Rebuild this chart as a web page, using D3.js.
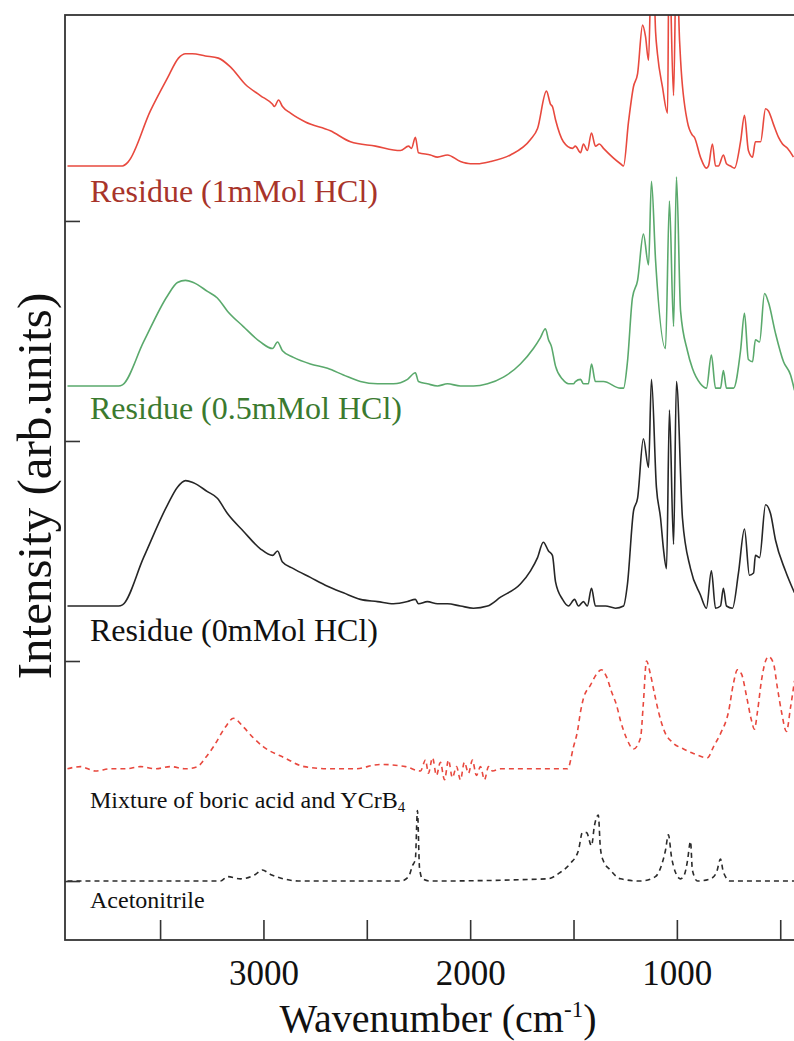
<!DOCTYPE html>
<html>
<head>
<meta charset="utf-8">
<script src="https://cdn.jsdelivr.net/npm/d3@7"></script>
<style>
  body { margin: 0; background: #fff; }
  svg text { font-family: "Liberation Serif", "Times New Roman", serif; }
</style>
</head>
<body>
<svg width="794" height="1041"></svg>
<script>
// spectra: [wavenumber (cm-1), intensity above own baseline (arb. units)]
const acetonitrile = [[3948,0],[3208,0],[3174,0.02],[3111,0.01],[3039,0.03],[3005,0.05],[2966,0.03],[2903,0.01],[2821,0],[2337,0],[2298,0.02],[2279,0.07],[2265,0.10],[2255,0.32],[2245,0.06],[2231,0.01],[2192,0],[1626,0.01],[1563,0.04],[1515,0.08],[1476,0.14],[1457,0.22],[1437,0.22],[1413,0.16],[1399,0.25],[1380,0.30],[1370,0.15],[1355,0.09],[1322,0.05],[1273,0.01],[1176,0],[1104,0.02],[1075,0.07],[1055,0.14],[1041,0.21],[1026,0.11],[1007,0.04],[982,0.01],[963,0.03],[949,0.09],[934,0.18],[925,0.05],[900,0],[838,0.01],[808,0.04],[789,0.10],[775,0.04],[741,0],[431,0]];

const mixture = [[3948,0],[3885,0.01],[3813,-0.01],[3740,0],[3668,0],[3595,0.01],[3522,0],[3450,0.01],[3377,0],[3319,0.01],[3281,0.05],[3242,0.10],[3184,0.19],[3145,0.23],[3097,0.19],[3048,0.14],[3000,0.10],[2898,0.05],[2802,0.01],[2676,0],[2560,0],[2434,0.02],[2313,0.01],[2240,-0.01],[2216,0.04],[2202,-0.02],[2182,0.05],[2163,-0.03],[2144,0.03],[2124,-0.05],[2105,0.04],[2086,-0.04],[2066,0.01],[2047,-0.05],[2028,0.03],[2008,-0.02],[1989,0.04],[1970,-0.03],[1950,0.01],[1931,-0.05],[1911,0.01],[1892,-0.01],[1853,0],[1757,0],[1660,0],[1529,0],[1500,0.10],[1481,0.17],[1466,0.26],[1452,0.32],[1418,0.38],[1389,0.43],[1365,0.45],[1341,0.42],[1316,0.35],[1292,0.29],[1273,0.22],[1244,0.14],[1210,0.09],[1176,0.14],[1162,0.30],[1147,0.49],[1128,0.43],[1108,0.34],[1089,0.26],[1060,0.17],[1021,0.12],[968,0.09],[920,0.07],[852,0.05],[823,0.10],[789,0.16],[750,0.26],[726,0.39],[707,0.45],[687,0.43],[663,0.33],[639,0.22],[625,0.18],[610,0.26],[591,0.40],[571,0.49],[557,0.51],[533,0.48],[514,0.37],[494,0.26],[470,0.17],[450,0.28],[431,0.40]];

const residue0 = [[3948,0],[3701,0],[3682,0.005],[3580,0.22],[3464,0.46],[3416,0.54],[3377,0.57],[3339,0.56],[3271,0.52],[3223,0.49],[3174,0.42],[3097,0.34],[3015,0.26],[2956,0.23],[2932,0.25],[2908,0.20],[2855,0.17],[2773,0.13],[2690,0.09],[2613,0.06],[2531,0.03],[2448,0.02],[2371,0.01],[2303,0.02],[2265,0.03],[2250,0.01],[2207,0.02],[2158,0.01],[2110,0.01],[2047,0],[1984,-0.01],[1916,0],[1853,0.04],[1757,0.10],[1708,0.16],[1674,0.22],[1646,0.29],[1621,0.25],[1602,0.23],[1587,0.11],[1553,0.03],[1524,0],[1495,0.03],[1476,0],[1452,0.02],[1433,0],[1413,0.08],[1394,0],[1345,0],[1297,-0.01],[1258,0],[1239,0.10],[1210,0.43],[1190,0.49],[1162,0.76],[1137,0.63],[1123,1.03],[1099,0.54],[1079,0.40],[1065,0.26],[1050,0.17],[1036,0.89],[1016,0.28],[1002,1.02],[973,0.40],[934,0.17],[886,0.05],[857,-0.01],[833,0.16],[813,-0.01],[789,0],[775,0.08],[760,0],[731,-0.01],[702,0.15],[673,0.35],[649,0.14],[629,0.15],[620,0.23],[600,0.22],[571,0.46],[547,0.42],[523,0.30],[475,0.16],[431,0.06]];

const residue05 = [[3948,0],[3701,0],[3682,0.005],[3580,0.20],[3464,0.41],[3416,0.47],[3377,0.48],[3339,0.47],[3271,0.43],[3223,0.40],[3174,0.34],[3097,0.27],[3015,0.20],[2956,0.17],[2932,0.20],[2908,0.16],[2855,0.13],[2773,0.10],[2690,0.08],[2613,0.05],[2531,0.02],[2448,0.01],[2371,0.01],[2303,0.03],[2265,0.06],[2250,0.02],[2207,0.01],[2158,0],[2110,0.01],[2047,0],[1984,0],[1916,0.01],[1839,0.04],[1757,0.10],[1694,0.17],[1660,0.22],[1636,0.26],[1621,0.21],[1607,0.18],[1587,0.09],[1553,0.03],[1524,0.01],[1500,0.01],[1491,0.02],[1466,0.03],[1452,0.01],[1428,0.01],[1413,0.10],[1394,0.02],[1375,0.02],[1355,0.02],[1273,-0.01],[1258,-0.01],[1239,0.11],[1215,0.40],[1190,0.48],[1162,0.69],[1137,0.55],[1123,0.93],[1103,0.57],[1055,0.17],[1036,0.84],[1016,0.27],[1002,0.95],[982,0.34],[949,0.16],[925,0.08],[886,0.01],[857,-0.01],[833,0.14],[813,-0.01],[789,-0.01],[775,0.07],[760,-0.01],[726,-0.01],[692,0.16],[673,0.33],[654,0.12],[634,0.11],[620,0.21],[600,0.20],[576,0.42],[557,0.38],[523,0.24],[484,0.11],[450,0.05],[431,-0.02]];

const residue1 = [[3948,0],[3837,0],[3692,0],[3682,0],[3653,0.02],[3547,0.25],[3464,0.40],[3411,0.49],[3377,0.51],[3344,0.51],[3281,0.50],[3218,0.49],[3160,0.45],[3087,0.37],[3015,0.32],[2956,0.28],[2947,0.27],[2927,0.30],[2908,0.27],[2869,0.24],[2797,0.20],[2676,0.16],[2579,0.11],[2458,0.09],[2337,0.07],[2298,0.09],[2284,0.08],[2265,0.13],[2250,0.06],[2192,0.05],[2158,0.04],[2110,0.05],[2047,0.02],[1999,0.01],[1965,0.01],[1902,0.02],[1805,0.05],[1708,0.12],[1674,0.17],[1631,0.34],[1611,0.28],[1602,0.27],[1587,0.21],[1549,0.11],[1505,0.08],[1491,0.09],[1466,0.06],[1452,0.10],[1433,0.07],[1413,0.15],[1394,0.09],[1375,0.10],[1355,0.08],[1273,0.01],[1258,0.00],[1234,0.20],[1210,0.36],[1190,0.42],[1166,0.64],[1152,0.59],[1137,0.48],[1123,0.93],[1115,0.93],[1103,0.61],[1094,0.51],[1070,0.36],[1045,0.24],[1038,0.98],[1016,0.32],[1002,0.98],[987,0.57],[982,0.48],[949,0.20],[925,0.14],[915,0.13],[886,0.04],[857,-0.01],[847,0],[828,0.10],[813,0],[799,0],[775,0.05],[760,0.01],[741,0],[721,-0.01],[692,0.11],[673,0.23],[654,0.07],[634,0.04],[620,0.11],[595,0.11],[571,0.26],[557,0.25],[533,0.19],[508,0.13],[489,0.10],[465,0.08],[436,0.04]];

const seriesLabels = ["Acetonitrile", "Mixture of boric acid and YCrB", "Residue (0mMol HCl)", "Residue (0.5mMol HCl)", "Residue (1mMol HCl)"];
const seriesOffsets = [1.0, 1.51, 2.25, 3.25, 4.25];
const xTicks = [3500, 3000, 2500, 2000, 1500, 1000, 500];
const yTicks = [1, 2, 3, 4];

const spectra = [acetonitrile, mixture, residue0, residue05, residue1];
const styles = [
  { line: "#2b2b2b", text: "#111", dash: "5,4", size: 24, dy: 27 },
  { line: "#e8483e", text: "#111", dash: "5,4", size: 24, dy: 39 },
  { line: "#262626", text: "#111", dash: null, size: 32, dy: 35 },
  { line: "#5aa96c", text: "#3b7a2f", dash: null, size: 32, dy: 33 },
  { line: "#e8493e", text: "#a8342a", dash: null, size: 32, dy: 36 }
];

const svg = d3.select("svg");
const plotLeft = 65, plotTop = 15, plotBottom = 940, plotRight = 800.9;

const x = d3.scaleLinear().domain([3960, 400]).range([plotLeft, plotRight]);
const y = d3.scaleLinear().domain([0.732, 4.936]).range([plotBottom, plotTop]);

svg.append("defs").append("clipPath").attr("id", "plot")
  .append("rect").attr("x", plotLeft).attr("y", plotTop)
  .attr("width", plotRight - plotLeft).attr("height", plotBottom - plotTop);

const plot = svg.append("g").attr("clip-path", "url(#plot)");

spectra.forEach((data, i) => {
  const line = d3.line()
    .x(d => x(d[0]))
    .y(d => y(seriesOffsets[i] + d[1]))
    .curve(d3.curveMonotoneX);
  plot.append("path")
    .datum(data)
    .attr("d", line)
    .attr("fill", "none")
    .attr("stroke", styles[i].line)
    .attr("stroke-width", 1.6)
    .attr("stroke-linejoin", "round")
    .attr("stroke-dasharray", styles[i].dash);
});

// labels
seriesLabels.forEach((label, i) => {
  const t = svg.append("text")
    .attr("x", 90)
    .attr("y", y(seriesOffsets[i]) + styles[i].dy)
    .attr("font-size", styles[i].size)
    .attr("fill", styles[i].text)
    .text(label);
  if (i === 1) {
    t.append("tspan").attr("font-size", 15).attr("dy", 4).text("4");
  }
});

// frame
svg.append("rect")
  .attr("x", plotLeft).attr("y", plotTop)
  .attr("width", plotRight - plotLeft).attr("height", plotBottom - plotTop)
  .attr("fill", "none").attr("stroke", "#333").attr("stroke-width", 1.8);

const xAxis = svg.append("g")
  .attr("transform", `translate(0,${plotBottom})`)
  .call(d3.axisBottom(x).tickValues(xTicks)
    .tickSizeInner(-20).tickSizeOuter(0).tickPadding(20)
    .tickFormat(d => d % 1000 === 0 ? d : ""));
xAxis.select(".domain").remove();
xAxis.selectAll("line").attr("stroke", "#333").attr("stroke-width", 1.6);
xAxis.selectAll("text").attr("font-size", 35).attr("fill", "#111")
  .style("font-family", "'Liberation Serif', serif");

const yAxis = svg.append("g")
  .attr("transform", `translate(${plotLeft},0)`)
  .call(d3.axisLeft(y).tickValues(yTicks).tickSizeInner(-15).tickSizeOuter(0).tickFormat(""));
yAxis.select(".domain").remove();
yAxis.selectAll("line").attr("stroke", "#333").attr("stroke-width", 1.6);

// axis titles
const xt = svg.append("text")
  .attr("x", 438).attr("y", 1032)
  .attr("text-anchor", "middle")
  .attr("font-size", 40).attr("fill", "#111")
  .text("Wavenumber (cm");
xt.append("tspan").attr("font-size", 23).attr("dy", -15).text("-1");
xt.append("tspan").attr("dy", 15).text(")");

svg.append("text")
  .attr("transform", "translate(51,486) rotate(-90)")
  .attr("text-anchor", "middle")
  .attr("font-size", 49).attr("fill", "#111")
  .text("Intensity (arb.units)");
</script>
</body>
</html>
